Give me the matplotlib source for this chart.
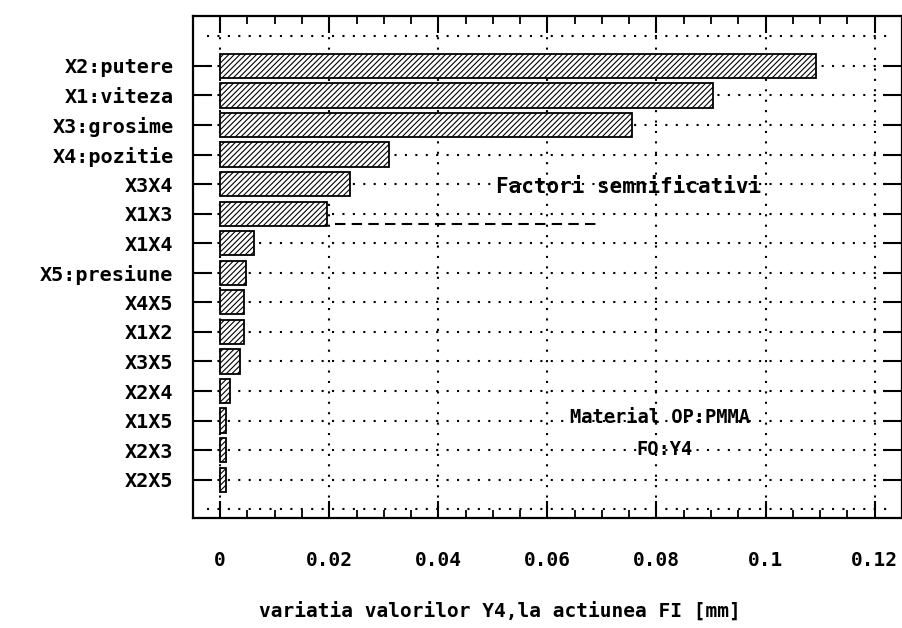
import numpy as np
import matplotlib
matplotlib.use("Agg")
import matplotlib.pyplot as plt
from matplotlib.ticker import MultipleLocator

# factor names, top to bottom
factori = ["X2:putere", "X1:viteza", "X3:grosime", "X4:pozitie", "X3X4", "X1X3",
           "X1X4", "X5:presiune", "X4X5", "X1X2", "X3X5", "X2X4", "X1X5", "X2X3", "X2X5"]
# effect values [mm]
efecte = [0.1093, 0.0904, 0.0755, 0.0309, 0.0238, 0.0195,
          0.0062, 0.0047, 0.0043, 0.0044, 0.0037, 0.0018, 0.0011, 0.0011, 0.0010]
x_ticks = [0, 0.02, 0.04, 0.06, 0.08, 0.1, 0.12]
x_ticklabels = ["0", "0.02", "0.04", "0.06", "0.08", "0.1", "0.12"]

plt.rcParams['font.family'] = ['DejaVu Sans Mono']
plt.rcParams['hatch.linewidth'] = 0.8

fig = plt.figure(figsize=(9.03, 6.28), dpi=100)
ax = fig.add_axes([0.2137, 0.175, 0.785, 0.80])

pos = np.arange(len(factori))
ax.barh(pos, efecte, height=0.82, color='white', edgecolor='black',
        hatch='//////', linewidth=1.3, zorder=3)

ax.set_xlim(-0.005, 0.125)
ax.set_ylim(15.3, -1.7)

# dotted grid
dot = (0, (1, 4))
for xv in x_ticks:
    ax.axvline(xv, ymin=0.02, ymax=0.96, color='black', lw=1.5, ls=dot, zorder=1)
for yv in list(pos) + [-1, 15]:
    ax.axhline(yv, xmin=0.02, xmax=0.98, color='black', lw=1.5, ls=dot, zorder=1)

ax.set_yticks(pos)
ax.set_yticklabels(factori, fontsize=14.5, fontweight='bold')
ax.set_xticks(x_ticks)
ax.set_xticklabels(x_ticklabels, fontsize=14, fontweight='bold')
ax.xaxis.set_minor_locator(MultipleLocator(0.005))

ax.tick_params(axis='y', direction='in', length=14, width=1.5, left=True, right=True, pad=14)
ax.tick_params(axis='x', which='major', direction='in', length=12, width=1.5,
               top=True, bottom=True, pad=24)
ax.tick_params(axis='x', which='minor', direction='in', length=6, width=1.3,
               top=True, bottom=True)
for s in ax.spines.values():
    s.set_linewidth(1.6)

ax.text(0.0505, 4.1, "Factori semnificativi", fontsize=15, fontweight='bold',
        ha='left', va='center')
ax.plot([0.021, 0.069], [5.35, 5.35], color='black', lw=1.5, ls=(0, (5, 3)))
ax.text(0.0807, 11.9, "Material OP:PMMA", fontsize=13.5, fontweight='bold',
        ha='center', va='center')
ax.text(0.0815, 12.97, "FO:Y4", fontsize=13.5, fontweight='bold',
        ha='center', va='center')

ax.set_xlabel("variatia valorilor Y4,la actiunea FI [mm]", fontsize=14, fontweight='bold')
ax.xaxis.set_label_coords(0.433, -0.165)

fig.savefig("out.png", dpi=100, facecolor='white')
